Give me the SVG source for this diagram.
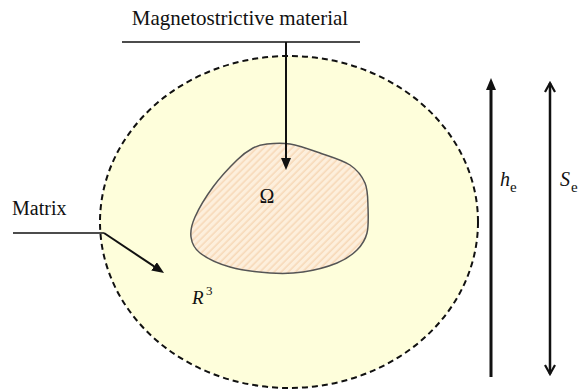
<svg xmlns="http://www.w3.org/2000/svg" width="582" height="391" viewBox="0 0 582 391">
<style>
  text { font-family: "Liberation Serif", Tinos, "Times New Roman", "DejaVu Serif", serif; fill: #111; }
  .it { font-style: italic; }
  .ln { stroke: #111; fill: none; }
</style>
<defs>
  <pattern id="hatch" width="5" height="5" patternUnits="userSpaceOnUse" patternTransform="rotate(45)">
    <rect width="5" height="5" fill="#fdefdc"/>
    <line x1="1.2" y1="0" x2="1.2" y2="5" stroke="#f7d9b8" stroke-width="1.6"/>
  </pattern>
  <marker id="tri" viewBox="0 0 12 10" markerWidth="12" markerHeight="10" refX="5" refY="5" orient="auto" markerUnits="userSpaceOnUse">
    <path d="M0,0 L12,5 L0,10 z" fill="#111"/>
  </marker>
  <marker id="vee" viewBox="0 0 12 12" markerWidth="12" markerHeight="12" refX="10" refY="6" orient="auto-start-reverse" markerUnits="userSpaceOnUse">
    <path d="M1,1 L10,6 L1,11" fill="none" stroke="#111" stroke-width="2.2"/>
  </marker>
</defs>
<rect width="582" height="391" fill="#ffffff"/>

<g id="matrix-region">
  <ellipse cx="289" cy="222" rx="189" ry="166" fill="#fefedb" stroke="#111" stroke-width="2" stroke-dasharray="6 4"/>
  <text class="it" x="192" y="304" font-size="19" font-family="Liberation Serif, serif">R</text>
  <text x="206" y="295" font-size="13" font-family="Liberation Serif, serif">3</text>
</g>

<g id="omega">
  <path d="M253,148 C258,145.3 260.8,144.7 267,144 C273.2,143.3 281.2,142.5 290,144 C298.8,145.5 310,149.5 320,153 C330,156.5 342.5,160 350,165 C357.5,170 362,176 365,183 C368,190 367.7,198.7 368,207 C368.3,215.3 368.8,225.8 367,233 C365.2,240.2 362,245 357,250 C352,255 346,259.3 337,263 C328,266.7 314.2,270.3 303,272 C291.8,273.7 282.2,273.8 270,273 C257.8,272.2 241.7,270.3 230,267 C218.3,263.7 206.5,258 200,253 C193.5,248 191.8,243 191,237 C190.2,231 191.3,225.3 195,217 C198.7,208.7 206,196.5 213,187 C220,177.5 230.3,166.5 237,160 C243.7,153.5 248,150.7 253,148 Z" fill="url(#hatch)" stroke="#555" stroke-width="1.5"/>
  <text x="267" y="203" font-size="20" text-anchor="middle" font-family="Liberation Serif, serif">Ω</text>
</g>

<g id="label-magnetostrictive">
  <text x="240" y="25" font-size="21" text-anchor="middle" font-family="Liberation Serif, serif">Magnetostrictive material</text>
  <line class="ln" x1="122" y1="42" x2="360" y2="42" stroke-width="1.5"/>
</g>

<g id="label-matrix">
  <text x="12" y="215" font-size="20" font-family="Liberation Serif, serif">Matrix</text>
  <line class="ln" x1="13" y1="233" x2="104" y2="233" stroke-width="1.5"/>
</g>

<g id="label-he">
  <text class="it" x="500" y="186" font-size="20" font-family="Liberation Serif, serif">h</text>
  <text x="510" y="192" font-size="15" font-family="Liberation Serif, serif">e</text>
</g>

<g id="label-se">
  <text class="it" x="560" y="186" font-size="20" font-family="Liberation Serif, serif">S</text>
  <text x="571" y="192" font-size="15" font-family="Liberation Serif, serif">e</text>
</g>

<g id="connectors">
  <line class="ln" x1="286" y1="42" x2="286" y2="163" stroke-width="2" marker-end="url(#tri)"/>
  <line class="ln" x1="104" y1="233" x2="158.2" y2="269.1" stroke-width="2" marker-end="url(#tri)"/>
  <line class="ln" x1="491" y1="377" x2="491" y2="85" stroke-width="3" marker-end="url(#tri)"/>
  <line class="ln" x1="550" y1="83" x2="550" y2="374" stroke-width="2.5" marker-start="url(#vee)" marker-end="url(#vee)"/>
</g>
</svg>
